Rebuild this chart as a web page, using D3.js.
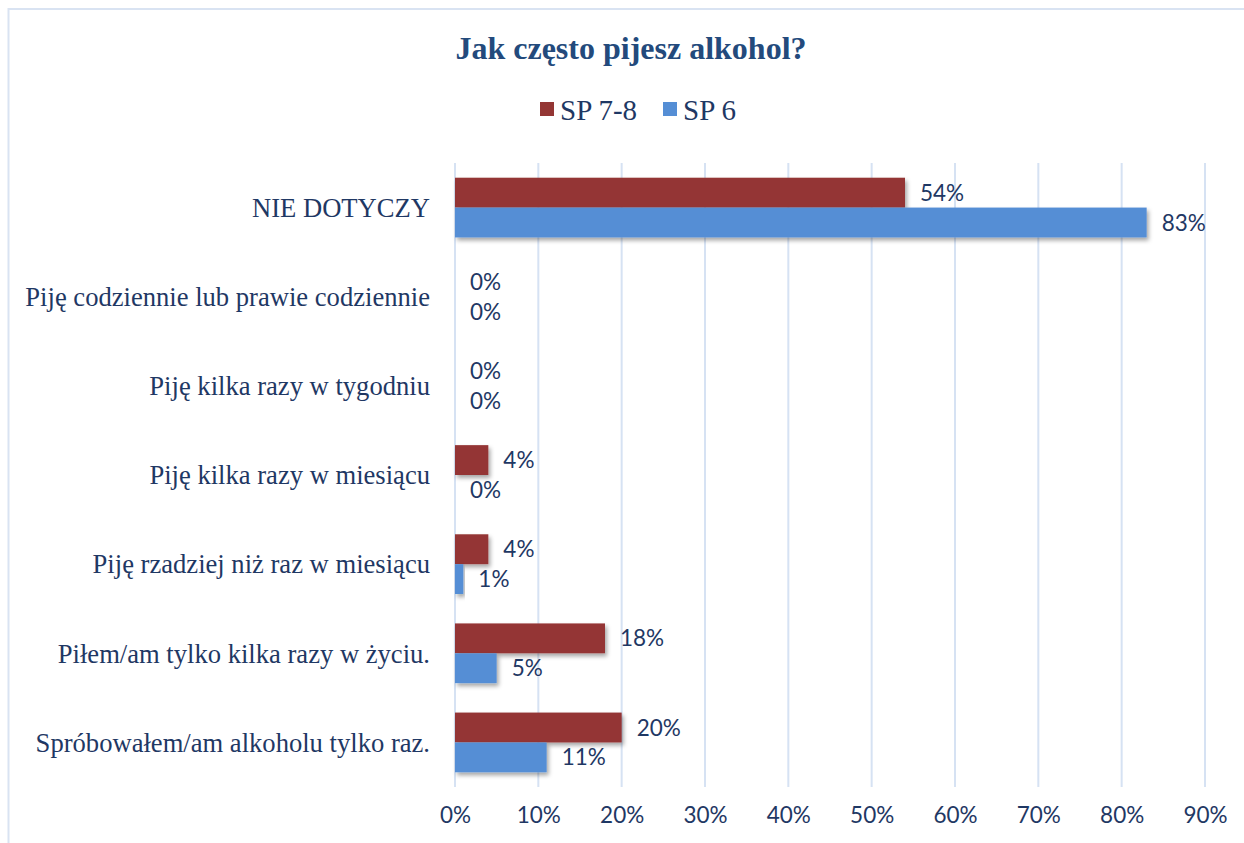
<!DOCTYPE html>
<html>
<head>
<meta charset="utf-8">
<script src="https://cdn.jsdelivr.net/npm/d3@7"></script>
<style>
  body { margin: 0; background: #fff; }
  svg { display: block; }
</style>
</head>
<body>
<script>
// categories (top to bottom) and the two series
const categories = [
    "NIE DOTYCZY",
    "Piję codziennie lub prawie codziennie",
    "Piję kilka razy w tygodniu",
    "Piję kilka razy w miesiącu",
    "Piję rzadziej niż raz w miesiącu",
    "Piłem/am tylko kilka razy w życiu.",
    "Spróbowałem/am alkoholu tylko raz."
]
const seriesNames = ["SP 7-8", "SP 6"]
const sp78 = [54, 0, 0, 4, 4, 18, 20]
const sp6 = [83, 0, 0, 0, 1, 5, 11]
const ticks = [0, 10, 20, 30, 40, 50, 60, 70, 80, 90]

const colors = ["#943634", "#558ed5"]
const textColor = "#1f3864"

const width = 1244, height = 843
const margin = { left: 455, right: 39, top: 163, bottom: 56 }

let svg = d3.select("body").append("svg")
    .attr("width", width)
    .attr("height", height)

// drop shadow for the bars
let filter = svg.append("defs").append("filter")
    .attr("id", "shadow")
    .attr("x", "-10%").attr("y", "-30%")
    .attr("width", "130%").attr("height", "170%")
filter.append("feDropShadow")
    .attr("dx", 2).attr("dy", 3)
    .attr("stdDeviation", 2)
    .attr("flood-color", "#000")
    .attr("flood-opacity", 0.35)

// chart border
svg.append("rect")
    .attr("x", 8.5).attr("y", 9)
    .attr("width", width + 20).attr("height", height + 20)
    .attr("fill", "none")
    .attr("stroke", "#d9e3f2")
    .attr("stroke-width", 2)

const x = d3.scaleLinear()
    .domain([0, 90])
    .range([margin.left, width - margin.right])

const y = d3.scaleBand()
    .domain(categories)
    .range([margin.top, height - margin.bottom])
    .paddingInner(0.33)
    .paddingOuter(0.165)

const y2 = d3.scaleBand()
    .domain(seriesNames)
    .range([0, y.bandwidth()])

// gridlines
svg.append("g")
    .selectAll("line")
    .data(ticks)
    .enter()
    .append("line")
    .attr("x1", d => x(d))
    .attr("x2", d => x(d))
    .attr("y1", margin.top)
    .attr("y2", height - margin.bottom)
    .attr("stroke", "#d6e2f3")
    .attr("stroke-width", 2)

// x axis tick labels
let xAxis = svg.append("g")
    .attr("transform", "translate(0," + (height - margin.bottom) + ")")
    .call(d3.axisBottom(x).tickValues(ticks).tickFormat(d => d + "%").tickSize(0).tickPadding(20))
xAxis.select(".domain").remove()
xAxis.selectAll("text")
    .attr("fill", textColor)
    .style("font-family", "Lato, 'Open Sans', sans-serif")
    .style("font-size", "22.5px")

// category labels
svg.append("g")
    .selectAll("text")
    .data(categories)
    .enter()
    .append("text")
    .attr("x", 430)
    .attr("y", d => y(d) + y.bandwidth() / 2)
    .attr("dy", "0.35em")
    .attr("text-anchor", "end")
    .attr("fill", textColor)
    .style("font-family", "'Liberation Serif', 'Times New Roman', serif")
    .style("font-size", "26.6px")
    .text(d => d)

// bars + labels per series
const allSeries = [sp78, sp6]
allSeries.forEach((values, i) => {
    let rows = categories.map((c, j) => ({ cat: c, value: values[j] }))

    svg.append("g")
        .selectAll("rect")
        .data(rows.filter(d => d.value > 0))
        .enter()
        .append("rect")
        .attr("x", x(0))
        .attr("y", d => y(d.cat) + y2(seriesNames[i]))
        .attr("width", d => x(d.value) - x(0))
        .attr("height", y2.bandwidth())
        .attr("fill", colors[i])
        .attr("filter", "url(#shadow)")

    svg.append("g")
        .selectAll("text")
        .data(rows)
        .enter()
        .append("text")
        .attr("x", d => x(d.value) + 15)
        .attr("y", d => y(d.cat) + y2(seriesNames[i]) + y2.bandwidth() / 2)
        .attr("dy", "0.36em")
        .attr("fill", textColor)
        .style("font-family", "Lato, 'Open Sans', sans-serif")
        .style("font-size", "22.5px")
        .text(d => d.value + "%")
})

// title
svg.append("text")
    .attr("x", 631)
    .attr("y", 59)
    .attr("text-anchor", "middle")
    .attr("fill", "#234a7c")
    .style("font-family", "'Liberation Serif', 'Times New Roman', serif")
    .style("font-weight", "bold")
    .style("font-size", "32px")
    .text("Jak często pijesz alkohol?")

// legend
const legendX = [540, 663]
let legend = svg.append("g")
    .selectAll("g")
    .data(seriesNames)
    .enter()
    .append("g")
    .attr("transform", (d, i) => "translate(" + legendX[i] + ",102)")
legend.append("rect")
    .attr("width", 14)
    .attr("height", 14)
    .attr("fill", (d, i) => colors[i])
legend.append("text")
    .attr("x", 20)
    .attr("y", 18)
    .attr("fill", textColor)
    .style("font-family", "'Liberation Serif', 'Times New Roman', serif")
    .style("font-size", "29px")
    .text(d => d)
</script>
</body>
</html>
